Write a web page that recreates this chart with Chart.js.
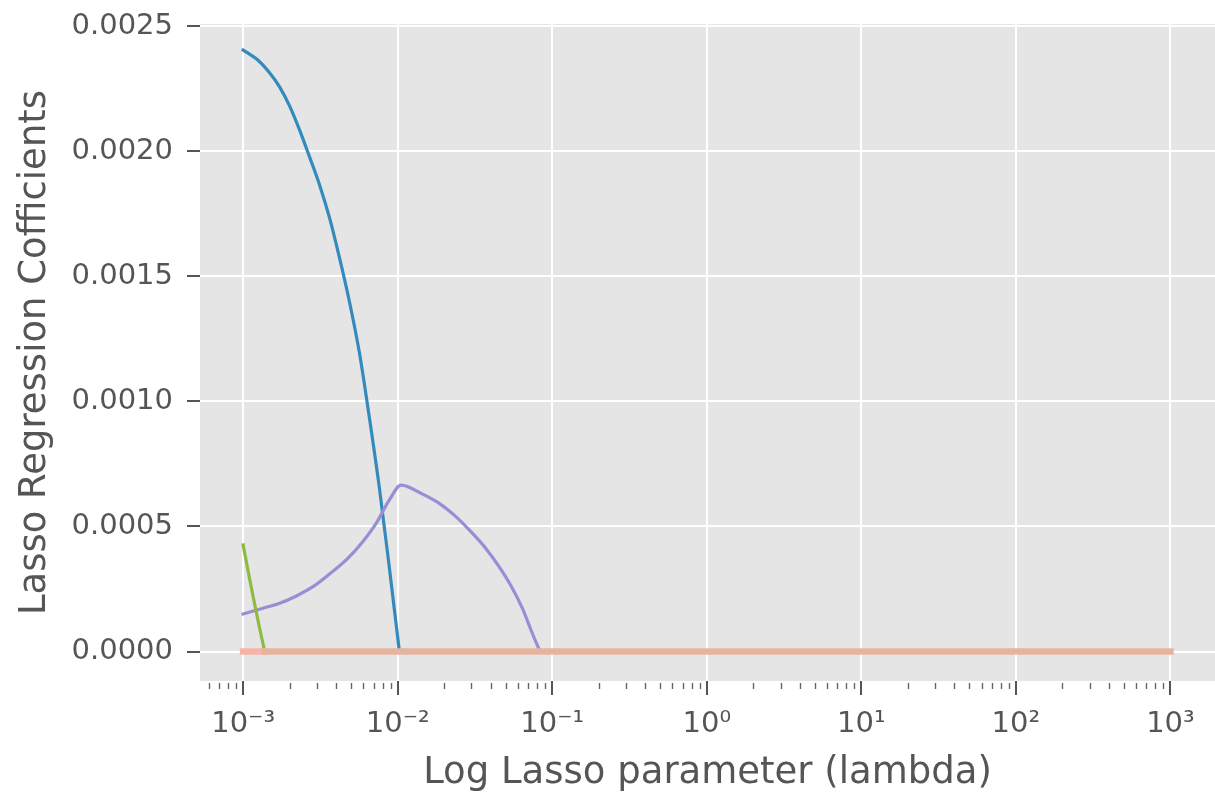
<!DOCTYPE html>
<html>
<head>
<meta charset="utf-8">
<script src="https://cdn.jsdelivr.net/npm/chart.js@4.4.1/dist/chart.umd.min.js"></script>
<style>
  html, body { margin: 0; padding: 0; background: #fff; }
</style>
</head>
<body>
<canvas id="lassoChart" width="1215" height="799"></canvas>
<script>
// axis ticks
const xTickValues = [1e-3, 1e-2, 1e-1, 1, 10, 100, 1000];
const xTickLabels = ['10⁻³', '10⁻²', '10⁻¹', '10⁰', '10¹', '10²', '10³'];
const minorSteps = [2, 3, 4, 5, 6, 7, 8, 9];
const yTickValues = [0, 0.0005, 0.001, 0.0015, 0.002, 0.0025];

// coefficient paths
const blueLambda = [0.001, 0.001244, 0.001487, 0.001725, 0.002001, 0.002321, 0.002693, 0.003124,
  0.003625, 0.004205, 0.004879, 0.00566, 0.006567, 0.007618, 0.00884, 0.010257];
const blueCoef = [0.002404, 0.002364, 0.002312, 0.002256, 0.00218, 0.002084, 0.001976, 0.001865,
  0.001733, 0.001573, 0.001397, 0.001193, 0.000933, 0.000653, 0.000334, 0];

const purpleLambda = [0.001, 0.001346, 0.001725, 0.002211, 0.002829, 0.003625, 0.004646, 0.005943,
  0.007255, 0.00884, 0.010517, 0.014502, 0.018578, 0.023806, 0.02902, 0.037181, 0.045303,
  0.055191, 0.064048, 0.074302, 0.083283];
const purpleCoef = [0.00015, 0.000173, 0.000193, 0.000222, 0.000259, 0.00031, 0.000366, 0.000439,
  0.000512, 0.000606, 0.000665, 0.000629, 0.000592, 0.000539, 0.000486, 0.000412, 0.000339,
  0.000253, 0.000173, 0.000073, 0];

const greenLambda = [0.001, 0.001105, 0.00122, 0.001314, 0.00138];
const greenCoef = [0.000426, 0.000286, 0.000153, 0.000059, 0];

const zeroLambda = [0.001, 0.00138, 1000];
const zeroCoef = [0, 0, 0];

function toPoints(xs, ys) {
  return xs.map((x, i) => ({ x, y: ys[i] }));
}

function buildXTicks() {
  const ticks = [];
  for (let e = -4; e <= 3; e++) {
    ticks.push({ value: Math.pow(10, e), major: true });
    minorSteps.forEach(m => ticks.push({ value: m * Math.pow(10, e), major: false }));
  }
  return ticks;
}

const plotBackground = {
  id: 'plotBackground',
  beforeDraw(chart) {
    const { ctx, chartArea } = chart;
    ctx.save();
    ctx.fillStyle = '#E5E5E5';
    ctx.fillRect(chartArea.left, chartArea.top, chartArea.right - chartArea.left, chartArea.bottom - chartArea.top);
    ctx.restore();
  }
};

const minorTicks = {
  id: 'minorTicks',
  afterDraw(chart) {
    const { ctx, chartArea } = chart;
    const xScale = chart.scales.x;
    ctx.save();
    ctx.strokeStyle = '#666';
    ctx.lineWidth = 1.4;
    xScale.ticks.forEach(t => {
      if (t.major) return;
      const px = Math.round(xScale.getPixelForValue(t.value)) + 0.5;
      ctx.beginPath();
      ctx.moveTo(px, chartArea.bottom + 2);
      ctx.lineTo(px, chartArea.bottom + 8);
      ctx.stroke();
    });
    ctx.restore();
  }
};

const fontFamily = "'DejaVu Sans', sans-serif";
const textColor = '#555555';

new Chart(document.getElementById('lassoChart'), {
  type: 'scatter',
  data: {
    datasets: [
      {
        label: 'zero',
        data: toPoints(zeroLambda, zeroCoef),
        showLine: true,
        borderWidth: 6.5,
        borderColor: '#E6B49E',
        segment: {
          borderColor: ctx => ctx.p1.parsed.x <= greenLambda[greenLambda.length - 1] ? '#F7B3A7' : '#E6B49E'
        },
        borderCapStyle: 'square',
        pointRadius: 0,
        order: 0
      },
      {
        label: 'green',
        data: toPoints(greenLambda, greenCoef),
        showLine: true,
        borderWidth: 3.2,
        borderColor: '#8EBA42',
        borderCapStyle: 'square',
        pointRadius: 0,
        order: 1
      },
      {
        label: 'purple',
        data: toPoints(purpleLambda, purpleCoef),
        showLine: true,
        borderWidth: 3.2,
        borderColor: '#988ED5',
        cubicInterpolationMode: 'monotone',
        borderCapStyle: 'square',
        pointRadius: 0,
        order: 2
      },
      {
        label: 'blue',
        data: toPoints(blueLambda, blueCoef),
        showLine: true,
        borderWidth: 3.2,
        borderColor: '#348ABD',
        cubicInterpolationMode: 'monotone',
        borderCapStyle: 'square',
        pointRadius: 0,
        order: 3
      }
    ]
  },
  options: {
    responsive: false,
    animation: false,
    devicePixelRatio: 1,
    layout: { padding: { top: 24, right: 0, bottom: 0, left: 0 } },
    plugins: {
      legend: { display: false },
      tooltip: { enabled: false }
    },
    scales: {
      x: {
        type: 'logarithmic',
        min: 0.000526,
        max: 1943,
        afterBuildTicks: scale => { scale.ticks = buildXTicks().filter(t => t.value >= scale.min && t.value <= scale.max); },
        afterFit: scale => { scale.height = 118; scale.paddingLeft = 0; scale.paddingRight = 0; },
        border: { display: false },
        grid: {
          color: ctx => (ctx.tick && ctx.tick.major) ? '#FFFFFF' : 'rgba(0,0,0,0)',
          lineWidth: 2,
          tickLength: 14,
          tickWidth: 2,
          tickColor: ctx => (ctx.tick && ctx.tick.major) ? textColor : 'rgba(0,0,0,0)'
        },
        ticks: {
          autoSkip: false,
          maxRotation: 0,
          padding: 12,
          color: textColor,
          font: { family: fontFamily, size: 29 },
          callback: value => {
            const i = xTickValues.findIndex(v => Math.abs(Math.log10(v) - Math.log10(value)) < 1e-6);
            return i >= 0 ? xTickLabels[i] : '';
          }
        },
        title: {
          display: true,
          text: 'Log Lasso parameter (lambda)',
          color: textColor,
          font: { family: fontFamily, size: 37 },
          padding: { top: 0, bottom: 3 }
        }
      },
      y: {
        type: 'linear',
        min: -0.0001179,
        max: 0.002508,
        afterBuildTicks: scale => { scale.ticks = yTickValues.map(v => ({ value: v })); },
        afterFit: scale => { scale.width = 200; scale.paddingTop = 0; scale.paddingBottom = 0; },
        border: { display: false },
        grid: {
          color: '#FFFFFF',
          lineWidth: 2,
          tickLength: 13,
          tickWidth: 2,
          tickColor: textColor
        },
        ticks: {
          padding: 14,
          color: textColor,
          font: { family: fontFamily, size: 29 },
          callback: value => value.toFixed(4)
        },
        title: {
          display: true,
          text: 'Lasso Regression Cofficients',
          color: textColor,
          font: { family: fontFamily, size: 37 },
          padding: { top: 13, bottom: 0 }
        }
      }
    }
  },
  plugins: [plotBackground, minorTicks]
});
</script>
</body>
</html>
